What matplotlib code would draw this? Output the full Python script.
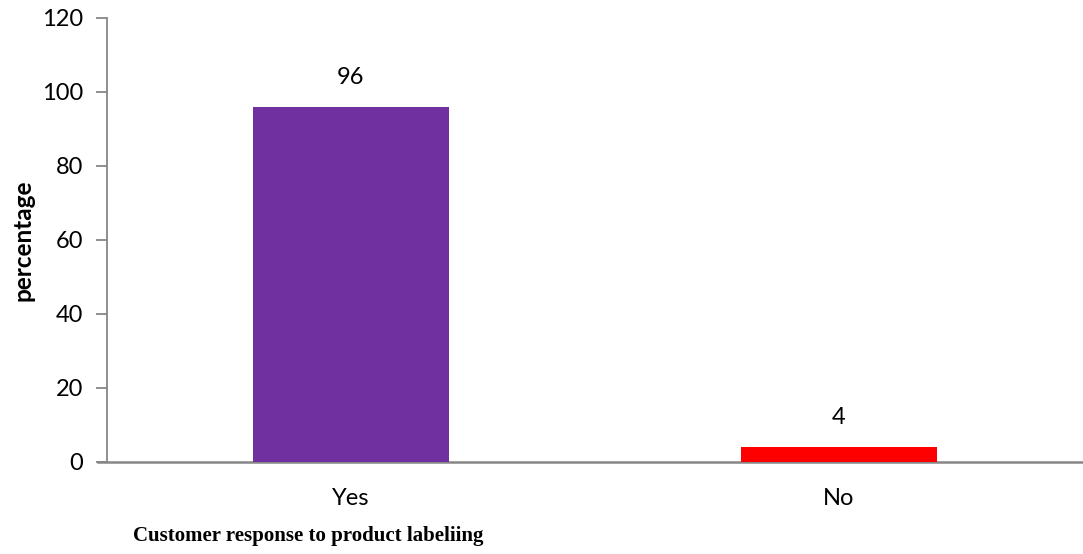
import matplotlib.pyplot as plt

# Survey answers and their share in percent
categories = ['Yes', 'No']
percentages = [96, 4]
bar_colors = ['#7030A0', '#FF0000']
y_ticks = [0, 20, 40, 60, 80, 100, 120]

fig = plt.figure(figsize=(10.83, 5.54), dpi=100)
ax = fig.add_axes([107 / 1083, 92 / 554, 976 / 1083, 444 / 554])

x = list(range(len(categories)))
ax.bar(x, percentages, width=0.4, color=bar_colors, zorder=3)

# Value labels above each bar
for xi, val in zip(x, percentages):
    ax.annotate(str(val), (xi, val), xytext=(0, 19), textcoords='offset pixels',
                ha='center', va='bottom', fontsize=17, family='Lato', color='black')

ax.set_xlim(-0.5, 1.5)
ax.set_ylim(0, 120)
ax.set_yticks(y_ticks)
ax.set_xticks(x)
ax.set_xticklabels(categories)

axis_grey = '#868686'
for side in ['top', 'right']:
    ax.spines[side].set_visible(False)
ax.spines['left'].set_color(axis_grey)
ax.spines['left'].set_linewidth(1.3)
ax.spines['bottom'].set_visible(False)

# Horizontal axis line, running slightly past the vertical axis
ax.plot([-9 / 976, 1], [0, 0], transform=ax.get_yaxis_transform(which='grid'),
        color=axis_grey, lw=1.8, clip_on=False, zorder=2)

ax.tick_params(axis='y', direction='out', length=8, width=1.3, color=axis_grey,
               labelsize=17, pad=9)
ax.tick_params(axis='x', length=0, labelsize=17, pad=19)
for lbl in ax.get_xticklabels() + ax.get_yticklabels():
    lbl.set_family('Lato')

# Axis titles placed in figure coordinates
fig.text(23 / 1083, 1 - 240 / 554, 'percentage', rotation=90, ha='center', va='center',
         fontsize=17.5, fontweight='bold', family='Lato')
fig.text(308 / 1083, 1 - 536 / 554, 'Customer response to product labeliing',
         ha='center', va='center', fontsize=15, fontweight='bold', family='Liberation Serif')

fig.savefig('out.png', dpi=100)
